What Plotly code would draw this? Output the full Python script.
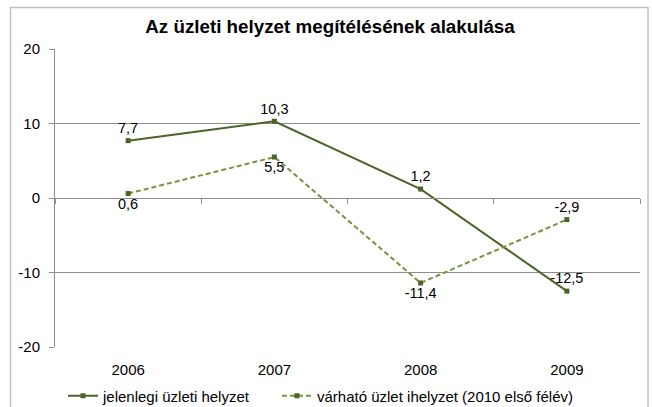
import plotly.graph_objects as go

years = ["2006", "2007", "2008", "2009"]
current = [7.7, 10.3, 1.2, -12.5]
expected = [0.6, 5.5, -11.4, -2.9]
name_current = "jelenlegi üzleti helyzet"
name_expected = "várható üzlet ihelyzet (2010 első félév)"
title = "Az üzleti helyzet megítélésének alakulása"
y_ticks = [-20, -10, 0, 10, 20]

pos_current = ["top center", "top center", "top center", "top center"]
pos_expected = ["bottom center", "bottom center", "bottom center", "top center"]

def fmt(v):
    return f"{v:.1f}".replace(".", ",")

xs = list(range(len(years)))
FONT = "Liberation Sans, Arial, sans-serif"
W, H = 652, 407
L, R, T, B = 55, 12, 49, 60
PW, PH = W - L - R, H - T - B

fig = go.Figure()
fig.add_trace(go.Scatter(
    x=xs, y=current, name=name_current, mode="lines+markers+text",
    line=dict(color="#4F6228", width=2),
    marker=dict(symbol="square", size=5, color="#4F6228"),
    text=[fmt(v) for v in current], textposition=pos_current,
    textfont=dict(family=FONT, size=14.5, color="#000000"),
    legend="legend",
))
fig.add_trace(go.Scatter(
    x=xs, y=expected, name=name_expected, mode="lines+markers+text",
    line=dict(color="#77933C", width=2, dash="5px,3px"),
    marker=dict(symbol="square", size=5, color="#4F6228"),
    text=[fmt(v) for v in expected], textposition=pos_expected,
    textfont=dict(family=FONT, size=14.5, color="#000000"),
    legend="legend2",
))
# invisible trace to host the secondary x-axis (axis line at y=0)
fig.add_trace(go.Scatter(x=[xs[0]], y=[0], xaxis="x2", mode="markers",
                         marker=dict(opacity=0), showlegend=False, hoverinfo="skip"))

legend_common = dict(orientation="h", xanchor="left",
                     y=(H - 396) / H, yref="container", yanchor="middle",
                     font=dict(family=FONT, size=15, color="#000000"),
                     bgcolor="rgba(0,0,0,0)")

fig.update_layout(
    width=W, height=H,
    margin=dict(l=L, r=R, t=T, b=B, autoexpand=False),
    paper_bgcolor="white", plot_bgcolor="white",
    font=dict(family=FONT, size=15, color="#000000"),
    title=dict(text="<b>" + title + "</b>", x=(330 - L) / PW, xref="paper", xanchor="center",
               y=1 - 26 / H, yanchor="middle",
               font=dict(family=FONT, size=18.8, color="#000000")),
    showlegend=True,
    legend=dict(x=(63 - L) / PW, **legend_common),
    legend2=dict(x=(277 - L) / PW, **legend_common),
    xaxis=dict(range=[-0.5, len(years) - 0.5], tickvals=xs, ticktext=years,
               showgrid=False, zeroline=False, showline=False, ticks="",
               ticklabelstandoff=12,
               tickfont=dict(family=FONT, size=15, color="#000000")),
    xaxis2=dict(range=[-0.5, len(years) - 0.5], overlaying="x", anchor="free",
                position=0.5, side="bottom",
                tickvals=[i - 0.5 for i in range(len(years) + 1)],
                showticklabels=False, showgrid=False, zeroline=False,
                showline=True, linecolor="#8C8C8C", linewidth=1,
                ticks="outside", ticklen=5, tickcolor="#8C8C8C"),
    yaxis=dict(range=[-20, 20], tickvals=y_ticks, ticktext=[str(v) for v in y_ticks],
               showgrid=True, gridcolor="#8C8C8C", gridwidth=1, zeroline=False,
               showline=True, linecolor="#8C8C8C", linewidth=1,
               ticks="outside", ticklen=5, tickcolor="#8C8C8C",
               ticklabelstandoff=6,
               tickfont=dict(family=FONT, size=15, color="#000000")),
)

# outer chart frame
fig.add_shape(type="rect", xref="paper", yref="paper",
              x0=(10.5 - L) / PW, x1=(648 - L) / PW,
              y0=-0.5, y1=(T + PH - 7.5) / PH,
              line=dict(color="#C0C0C0", width=1.5), layer="above")

fig.write_html("out.html", config={"displayModeBar": False},
               post_script="document.body.style.margin='0';")
